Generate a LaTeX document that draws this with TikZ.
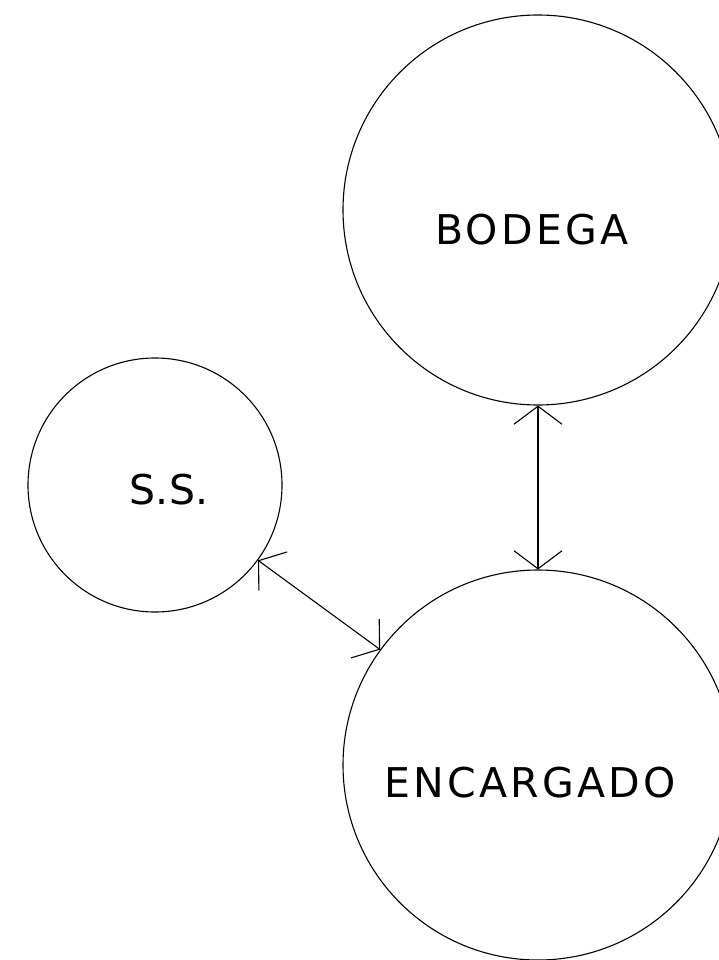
\documentclass[tikz,border=0pt]{standalone}
\usepackage{fontspec}
\usepackage{tikz}
\usetikzlibrary{arrows.meta}
\newfontfamily\lblfont[LetterSpace=8]{DejaVu Sans}
\newfontfamily\lblfonttight{DejaVu Sans}

\begin{document}
\begin{tikzpicture}[x=1pt, y=-1pt, line width=1.1pt]
    % Define the styles for the entities and their labels
    \tikzstyle{entity} = [draw, circle, inner sep=0pt]
    \tikzstyle{lbl} = [font=\lblfont\fontsize{41}{48}\selectfont, inner sep=0pt]
    \tikzstyle{link} = [{Straight Barb[length=18pt, width=48pt]}-{Straight Barb[length=18pt, width=48pt]}]

    \useasboundingbox (0,0) rectangle (719,960);

    % The three entities
    \node[entity, minimum size=390pt] (bodega) at (538,210) {};
    \node[entity, minimum size=254pt] (ss) at (155,485) {};
    \node[entity, minimum size=390pt] (encargado) at (538,765) {};

    % Their names, set a little off centre
    \node[lbl] (bodegatxt) at (532,230) {BODEGA};
    \node[lbl, font=\lblfonttight\fontsize{41}{48}\selectfont] (sstxt) at (169,490) {S.S.};
    \node[lbl] (encargadotxt) at (530,783) {ENCARGADO};

    % Two-way links between the entities
    \draw[link] (bodega) -- (encargado);
    \draw[link] (ss) -- (encargado);
\end{tikzpicture}
\end{document}
